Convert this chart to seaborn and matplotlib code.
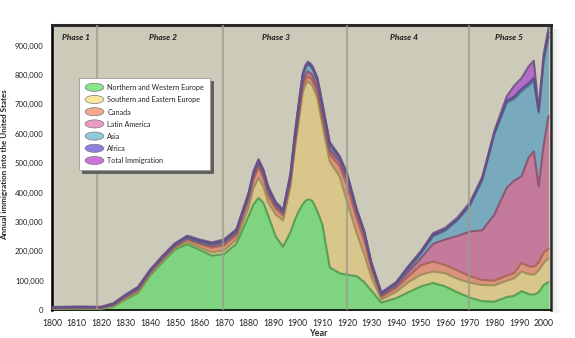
import matplotlib
matplotlib.use("Agg")
import matplotlib.pyplot as plt
import seaborn as sns
import numpy as np
import pandas as pd
from matplotlib.patches import Ellipse, Patch, Rectangle
from matplotlib.legend_handler import HandlerPatch
from matplotlib.ticker import FuncFormatter, MultipleLocator

# ---------------- data (thousands of immigrants per year) ----------------
years = [1800, 1810, 1820, 1825, 1830, 1835, 1840, 1845, 1850, 1855, 1860, 1865,
         1870, 1875, 1880, 1882, 1884, 1886, 1888, 1891, 1894, 1897, 1899, 1900,
         1902, 1903, 1904, 1905, 1906, 1908, 1910, 1913, 1917, 1920, 1924, 1927,
         1930, 1934, 1940, 1945, 1950, 1955, 1960, 1965, 1970, 1975, 1980, 1985,
         1988, 1991, 1994, 1996, 1998, 2000, 2002]
nw_europe = [2, 3, 3, 12, 36, 58, 118, 163, 205, 224, 205, 185,
             190, 225, 320, 360, 381, 365, 320, 250, 215, 265, 310, 330,
             360, 370, 376, 375, 370, 335, 290, 145, 125, 120, 115, 95,
             65, 25, 40, 60, 80, 92, 80, 60, 42, 30, 28, 44,
             48, 64, 54, 52, 60, 85, 95]
se_europe = [2, 2, 2, 2, 3, 4, 4, 5, 5, 8, 9, 11,
             13, 15, 30, 55, 69, 55, 45, 75, 90, 155, 250, 290,
             382, 395, 402, 397, 392, 385, 340, 360, 330, 250, 145, 95,
             45, 11, 22, 35, 40, 39, 45, 46, 51, 55, 56, 56,
             60, 67, 68, 68, 75, 75, 80]
canada = [2, 2, 2, 3, 5, 6, 6, 6, 6, 8, 11, 16,
          17, 15, 25, 30, 35, 30, 25, 20, 17, 15, 17, 17,
          18, 17, 17, 18, 18, 20, 22, 25, 35, 55, 50, 48,
          28, 9, 13, 20, 32, 34, 28, 28, 22, 17, 16, 17,
          18, 29, 27, 27, 27, 35, 34]
latin_america = [1, 1, 1, 2, 3, 3, 3, 3, 3, 4, 4, 6,
                 8, 8, 10, 12, 12, 12, 12, 10, 8, 10, 13, 15,
                 17, 17, 17, 17, 17, 17, 18, 15, 15, 20, 20, 19,
                 12, 6, 7, 15, 23, 60, 87, 118, 152, 169, 225, 299,
                 314, 295, 371, 393, 258, 365, 451]
asia = [1, 1, 1, 1, 2, 3, 3, 3, 3, 3, 4, 4,
        5, 5, 7, 8, 8, 8, 8, 5, 5, 10, 15, 18,
        20, 22, 23, 23, 23, 21, 20, 15, 10, 13, 7, 7,
        5, 4, 6, 10, 15, 25, 30, 53, 88, 169, 273, 289,
        278, 289, 244, 240, 250, 285, 270]
africa = [1, 1, 1, 1, 2, 2, 2, 2, 2, 3, 3, 4,
          3, 3, 4, 4, 4, 4, 5, 4, 3, 4, 5, 5,
          4, 5, 5, 5, 5, 6, 8, 6, 5, 5, 3, 3,
          3, 2, 4, 5, 6, 6, 4, 5, 5, 6, 6, 7,
          8, 8, 8, 10, 6, 10, 15]
total_other = [1, 2, 1, 2, 2, 3, 2, 3, 3, 3, 4, 4,
               4, 4, 4, 4, 4, 4, 5, 4, 4, 5, 5, 5,
               4, 5, 5, 5, 5, 6, 7, 6, 4, 4, 3, 3,
               2, 3, 3, 5, 4, 5, 6, 5, 6, 6, 6, 15,
               37, 37, 58, 58, 7, 15, 15]

labels = ["Northern and Western Europe", "Southern and Eastern Europe", "Canada",
          "Latin America", "Asia", "Africa", "Total Immigration"]
phase_names = ["Phase 1", "Phase 2", "Phase 3", "Phase 4", "Phase 5"]
phase_label_x = [1804, 1845, 1891, 1943, 1986]
phase_bounds = [1818.5, 1869.5, 1920, 1969.5]
y_ticks = [0, 100000, 200000, 300000, 400000, 500000, 600000, 700000, 800000, 900000]

fill_colors = ["#7fd47f", "#d9c68a", "#dc937c", "#c47b9b", "#79a9bd", "#7b6fbf", "#b46dc6"]
legend_colors = ["#86e88a", "#fbe6a0", "#f6a88f", "#eb9cc0", "#90c9df", "#8e7fdc", "#cb74d9"]
edge_colors = ["#4f9a50", "#9e8d5a", "#a86553", "#8c4f6c", "#4f7b8e", "#55498f", "#6e4f86"]

# ---------------- figure ----------------
sns.set_theme(style="white")
plt.rcParams['font.family'] = ['Lato', 'DejaVu Sans']

df = pd.DataFrame({"year": years})
series = [nw_europe, se_europe, canada, latin_america, asia, africa, total_other]
for lab, s in zip(labels, series):
    df[lab] = np.array(s, dtype=float) * 1000

fig = plt.figure(figsize=(5.75, 3.38), dpi=100)
fig.patch.set_facecolor("white")

# drop shadow right of the wall
for i in range(10):
    a = 0.10 * (1 - i / 10)
    fig.add_artist(Rectangle(((551 + i) / 575, (338 - 312 - i * 0.3) / 338), 1.2 / 575, 285 / 338,
                             transform=fig.transFigure, color="black", alpha=a, lw=0, zorder=0))

ax = fig.add_axes([52 / 575, 1 - 310 / 338, 499 / 575, 285 / 338])
ax.set_facecolor("#cccbb9")

cum = np.zeros(len(years))
tops = []
for i, lab in enumerate(labels):
    lower = cum.copy()
    cum = cum + df[lab].values
    tops.append(cum.copy())
    ax.fill_between(df["year"], lower, cum, color=fill_colors[i], lw=0, zorder=2)

for i, lab in enumerate(labels):
    sns.lineplot(x=df["year"], y=tops[i], ax=ax, color=edge_colors[i], lw=1.5,
                 legend=False, zorder=3, alpha=0.9)

for xb in phase_bounds:
    ax.axvline(xb, color="#9c9b8e", lw=1.6, alpha=0.75, zorder=4)

for name, px in zip(phase_names, phase_label_x):
    ax.text(px, 0.955, name, transform=ax.get_xaxis_transform(), fontsize=6,
            fontweight="bold", fontstyle="italic", ha="left" if name == "Phase 1" else "center",
            va="center", color="#1a1a1a", zorder=5)

ax.set_xlim(1800, 2003)
ax.set_ylim(0, 970000)
ax.xaxis.set_major_locator(MultipleLocator(10))
ax.set_yticks(y_ticks)
ax.yaxis.set_major_formatter(FuncFormatter(lambda v, p: f"{int(v):,}"))
ax.tick_params(axis="x", direction="out", length=5, width=1, labelsize=6.2, pad=1.5, colors="black")
ax.tick_params(axis="y", direction="in", length=3, width=0.8, labelsize=5.6, pad=6, colors="black")
ax.tick_params(axis="x", labelcolor="#222222")
ax.tick_params(axis="y", labelcolor="#222222")

ax.set_xlabel("Year", fontsize=6.5, fontweight="bold", va="center")
ax.xaxis.set_label_coords(0.533, -0.084)
ax.set_ylabel("Annual immigration into the United States", fontsize=5.8, fontweight="bold")
ax.yaxis.set_label_coords(-0.088, 0.51)

for side, lw, col in [("left", 1.8, "black"), ("top", 2.2, "#2a2a2a"),
                      ("right", 1.8, "#2a2a2a"), ("bottom", 1.2, "black")]:
    ax.spines[side].set_visible(True)
    ax.spines[side].set_linewidth(lw)
    ax.spines[side].set_color(col)


class HandlerEllipse(HandlerPatch):
    def create_artists(self, legend, orig_handle, xdescent, ydescent, width, height,
                       fontsize, trans):
        center = 0.5 * width - 0.5 * xdescent, 0.5 * height - 0.5 * ydescent
        p = Ellipse(xy=center, width=width, height=height * 1.25)
        self.update_prop(p, orig_handle, legend)
        p.set_transform(trans)
        return [p]


handles = [Patch(facecolor=c, edgecolor="#777777", lw=0.5) for c in legend_colors]
leg = ax.legend(handles, labels, loc="upper left", bbox_to_anchor=(0.054, 0.814),
                borderaxespad=0, fontsize=5.2, frameon=True, fancybox=False, framealpha=1,
                edgecolor="#999999", borderpad=0.85, labelspacing=0.72,
                handlelength=2.6, handleheight=1.0, handletextpad=0.5,
                shadow={"color": "#555555", "alpha": 0.9},
                handler_map={Patch: HandlerEllipse()})
leg.get_frame().set_linewidth(0.6)
leg.set_zorder(10)

fig.savefig("out.png", dpi=100, facecolor="white")
